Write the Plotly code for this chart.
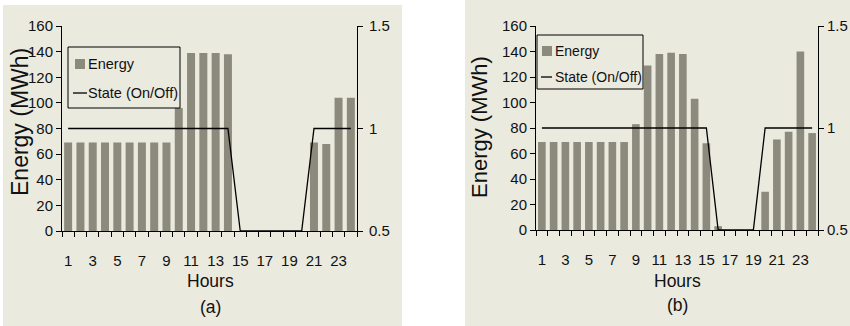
import plotly.graph_objects as go

# ---- data ----
hours = list(range(1, 25))
energy_a = [69] * 9 + [96, 139, 139, 139, 138] + [0] * 6 + [69, 68, 104, 104]
state_a = [1] * 14 + [0.5] * 6 + [1] * 4
energy_b = [69] * 8 + [83, 129, 138, 139, 138, 103, 68, 3, 0, 0, 0, 30, 71, 77, 140, 76]
state_b = [1] * 15 + [0.5] * 4 + [1] * 5
hour_labels = list(range(1, 25, 2))
energy_ticks = list(range(0, 161, 20))
state_ticks = [0.5, 1, 1.5]
state_tick_text = ["0.5", "1", "1.5"]

W, H = 850, 326
BG = "#ebeadf"
BAR = "#8b8a7d"
FONT = "Liberation Sans, Arial, sans-serif"
TXT = "#111"


def px(x):
    return x / W


def py(y):
    return 1 - y / H


fig = go.Figure()
fig.add_trace(go.Bar(x=hours, y=energy_a, marker=dict(color=BAR, line=dict(width=0)),
                     width=0.65, xaxis="x", yaxis="y", showlegend=False, name="Energy"))
fig.add_trace(go.Scatter(x=hours, y=state_a, mode="lines", line=dict(color="black", width=1.3),
                         xaxis="x", yaxis="y2", showlegend=False, name="State (On/Off)"))
fig.add_trace(go.Bar(x=hours, y=energy_b, marker=dict(color=BAR, line=dict(width=0)),
                     width=0.65, xaxis="x2", yaxis="y3", showlegend=False, name="Energy"))
fig.add_trace(go.Scatter(x=hours, y=state_b, mode="lines", line=dict(color="black", width=1.3),
                         xaxis="x2", yaxis="y4", showlegend=False, name="State (On/Off)"))


def xax(domain, anchor):
    return dict(domain=domain, anchor=anchor, range=[0.5, 24.5], tickmode="array",
                tickvals=hour_labels, ticktext=[str(h) for h in hour_labels], ticks="",
                showline=True, linecolor="black", linewidth=1, showgrid=False, zeroline=False,
                ticklabelstandoff=16, automargin=False,
                tickfont=dict(family=FONT, size=15, color=TXT),
                minor=dict(ticks="outside", tick0=0.5, dtick=1, ticklen=5, tickcolor="black",
                           tickwidth=1, showgrid=False))


def yax(domain, anchor):
    return dict(domain=domain, anchor=anchor, range=[0, 160], tickmode="array",
                tickvals=energy_ticks, ticks="outside", ticklen=5, tickcolor="black",
                showline=True, linecolor="black", linewidth=1, showgrid=False, zeroline=False,
                ticklabelstandoff=0, automargin=False,
                tickfont=dict(family=FONT, size=15, color=TXT))


def y2ax(overlay, anchor, standoff):
    return dict(overlaying=overlay, anchor=anchor, side="right", range=[0.5, 1.5],
                tickmode="array", tickvals=state_ticks, ticktext=state_tick_text,
                ticks="outside", ticklen=5, tickcolor="black", showline=True,
                linecolor="black", linewidth=1, showgrid=False, zeroline=False,
                ticklabelstandoff=standoff, automargin=False,
                tickfont=dict(family=FONT, size=15, color=TXT))


ydom_a = [py(231), py(26)]
ydom_b = [py(230), py(26)]

shapes = [
    dict(type="rect", xref="paper", yref="paper", x0=px(3), x1=px(402), y0=py(326), y1=py(5),
         fillcolor=BG, line=dict(width=0), layer="below"),
    dict(type="rect", xref="paper", yref="paper", x0=px(465), x1=px(850), y0=py(326), y1=py(0),
         fillcolor=BG, line=dict(width=0), layer="below"),
]
annotations = []


def legend(x0, y0, x1, y1, sq, line_seg, tx, ty1, ty2, size):
    shapes.append(dict(type="rect", xref="paper", yref="paper", x0=px(x0), x1=px(x1),
                       y0=py(y1), y1=py(y0), fillcolor=BG, line=dict(color="black", width=1)))
    shapes.append(dict(type="rect", xref="paper", yref="paper", x0=px(sq[0]), x1=px(sq[1]),
                       y0=py(sq[3]), y1=py(sq[2]), fillcolor=BAR, line=dict(width=0)))
    shapes.append(dict(type="line", xref="paper", yref="paper", x0=px(line_seg[0]),
                       x1=px(line_seg[1]), y0=py(line_seg[2]), y1=py(line_seg[2]),
                       line=dict(color="black", width=1.3)))
    annotations.append(dict(text="Energy", xref="paper", yref="paper", x=px(tx), y=py(ty1),
                            xanchor="left", yanchor="middle", showarrow=False,
                            font=dict(family=FONT, size=size, color=TXT)))
    annotations.append(dict(text="State (On/Off)", xref="paper", yref="paper", x=px(tx),
                            y=py(ty2), xanchor="left", yanchor="middle", showarrow=False,
                            font=dict(family=FONT, size=size, color=TXT)))


legend(68, 47, 180, 108, (75, 85, 59, 69), (73, 87, 93), 86, 64, 93, 14.5)
legend(537, 35, 643, 89, (542, 552, 46, 56), (541, 552, 77), 553, 51, 77, 14)


def text(t, x, y, size, angle=0):
    annotations.append(dict(text=t, xref="paper", yref="paper", x=px(x), y=py(y),
                            xanchor="center", yanchor="middle", showarrow=False, textangle=angle,
                            font=dict(family=FONT, size=size, color=TXT)))


text("Hours", 210, 281, 17.5)
text("(a)", 210, 307, 17.5)
text("Hours", 677, 281, 17.5)
text("(b)", 677, 305, 17.5)
text("Energy (MWh)", 20, 122, 23, -90)
text("Energy (MWh)", 480, 127, 22, -90)

fig.update_layout(
    width=W, height=H, margin=dict(l=0, r=0, t=0, b=0, autoexpand=False),
    paper_bgcolor="white", plot_bgcolor="rgba(0,0,0,0)",
    xaxis=xax([px(62), px(357)], "y"),
    yaxis=yax(ydom_a, "x"),
    yaxis2=y2ax("y", "x", 3),
    xaxis2=xax([px(536), px(818)], "y3"),
    yaxis3=yax(ydom_b, "x2"),
    yaxis4=y2ax("y3", "x2", 0),
    shapes=shapes, annotations=annotations, showlegend=False, bargap=0.35,
)

fig.write_html("out.html")
